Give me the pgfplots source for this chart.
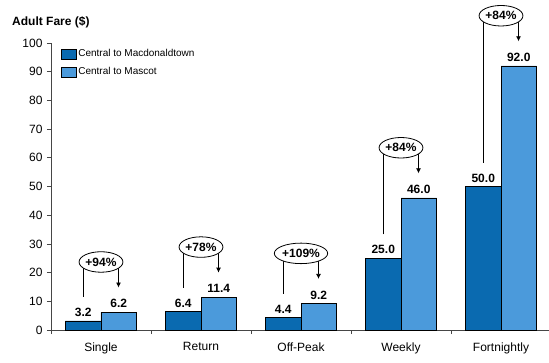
\documentclass[border=0pt]{standalone}
\usepackage{pgfplots}
\pgfplotsset{compat=1.18}
\usepackage{fontspec}
\setmainfont{Liberation Sans}
\usetikzlibrary{arrows.meta,shapes.geometric}
\definecolor{darkb}{RGB}{10,106,176}
\definecolor{lightb}{RGB}{75,154,219}
\definecolor{axgray}{RGB}{70,70,70}

\newcommand\annot[4]{%
 \draw[black, line width=0.8pt] (axis cs:{#1-0.175},{#2+8.3}) -- (axis cs:{#1-0.175},{#3+17.5});
 \draw[black, line width=0.8pt, -{Latex[length=5pt,width=5pt]}] (axis cs:{#1+0.175},{#3+17.5}) -- (axis cs:{#1+0.175},{#3+8.6});
 \node[ellipse, draw=black, fill=white, line width=0.8pt, inner xsep=0pt, inner ysep=3pt, font=\bfseries\fontsize{12}{14}\selectfont] at (axis cs:#1,{#3+17.5}) {#4};
}

\begin{document}
\begin{tikzpicture}
\path[use as bounding box] (0,0) rectangle (549pt,362pt);
\node[anchor=west, font=\bfseries\fontsize{12}{14}\selectfont, inner sep=0pt] at (12pt,340pt) {Adult Fare (\$)};
\begin{axis}[
 at={(51pt,32pt)}, anchor=south west,
 scale only axis, width=498pt, height=287pt,
 xmin=-0.5, xmax=4.48, ymin=0, ymax=100,
 ybar=0pt, bar width=35.5pt,
 axis x line=bottom, axis y line=left,
 axis line style={-, axgray, line width=0.8pt},
 tick align=outside, major tick length=4pt,
 tick style={axgray, line width=0.8pt},
 ytick={0,10,...,100},
 xtick={-0.5,0.5,1.5,2.5,3.5}, xticklabels={},
 extra x ticks={0,1,2,3,4},
 extra x tick labels={Single,Return,Off-Peak,Weekly,Fortnightly},
 extra x tick style={major tick length=0pt, tick label style={yshift=-9pt}},
 ticklabel style={font=\fontsize{12}{14}\selectfont},
 yticklabel style={xshift=-1pt},
 /pgf/number format/assume math mode=true,
 clip=false,
 nodes near coords={\pgfmathprintnumber[fixed,fixed zerofill,precision=1]{\pgfplotspointmeta}},
 every node near coord/.append style={font=\bfseries\fontsize{12}{14}\selectfont, inner sep=0pt, yshift=4pt, text=black},
 legend style={at={(0,1)}, anchor=north west, xshift=10pt, yshift=-5pt, draw=none, fill=none, inner sep=0pt, row sep=6pt, font=\fontsize{10}{12}\selectfont, nodes={inner sep=1.5pt}},
 legend cell align=left,
 legend image code/.code={\draw[#1] (0pt,-5pt) rectangle (15pt,5pt);},
]
\addplot[fill=darkb, draw=black, line width=0.6pt] coordinates {(0,3.2) (1,6.4) (2,4.4) (3,25) (4,50)};
\addplot[fill=lightb, draw=black, line width=0.6pt] coordinates {(0,6.2) (1,11.4) (2,9.2) (3,46) (4,92)};
\legend{Central to Macdonaldtown, Central to Mascot}
\annot{0}{3.2}{6.2}{+94\%}
\annot{1}{6.4}{11.4}{+78\%}
\annot{2}{4.4}{9.2}{+109\%}
\annot{3}{25}{46}{+84\%}
\annot{4}{50}{92}{+84\%}
\end{axis}
\end{tikzpicture}
\end{document}
